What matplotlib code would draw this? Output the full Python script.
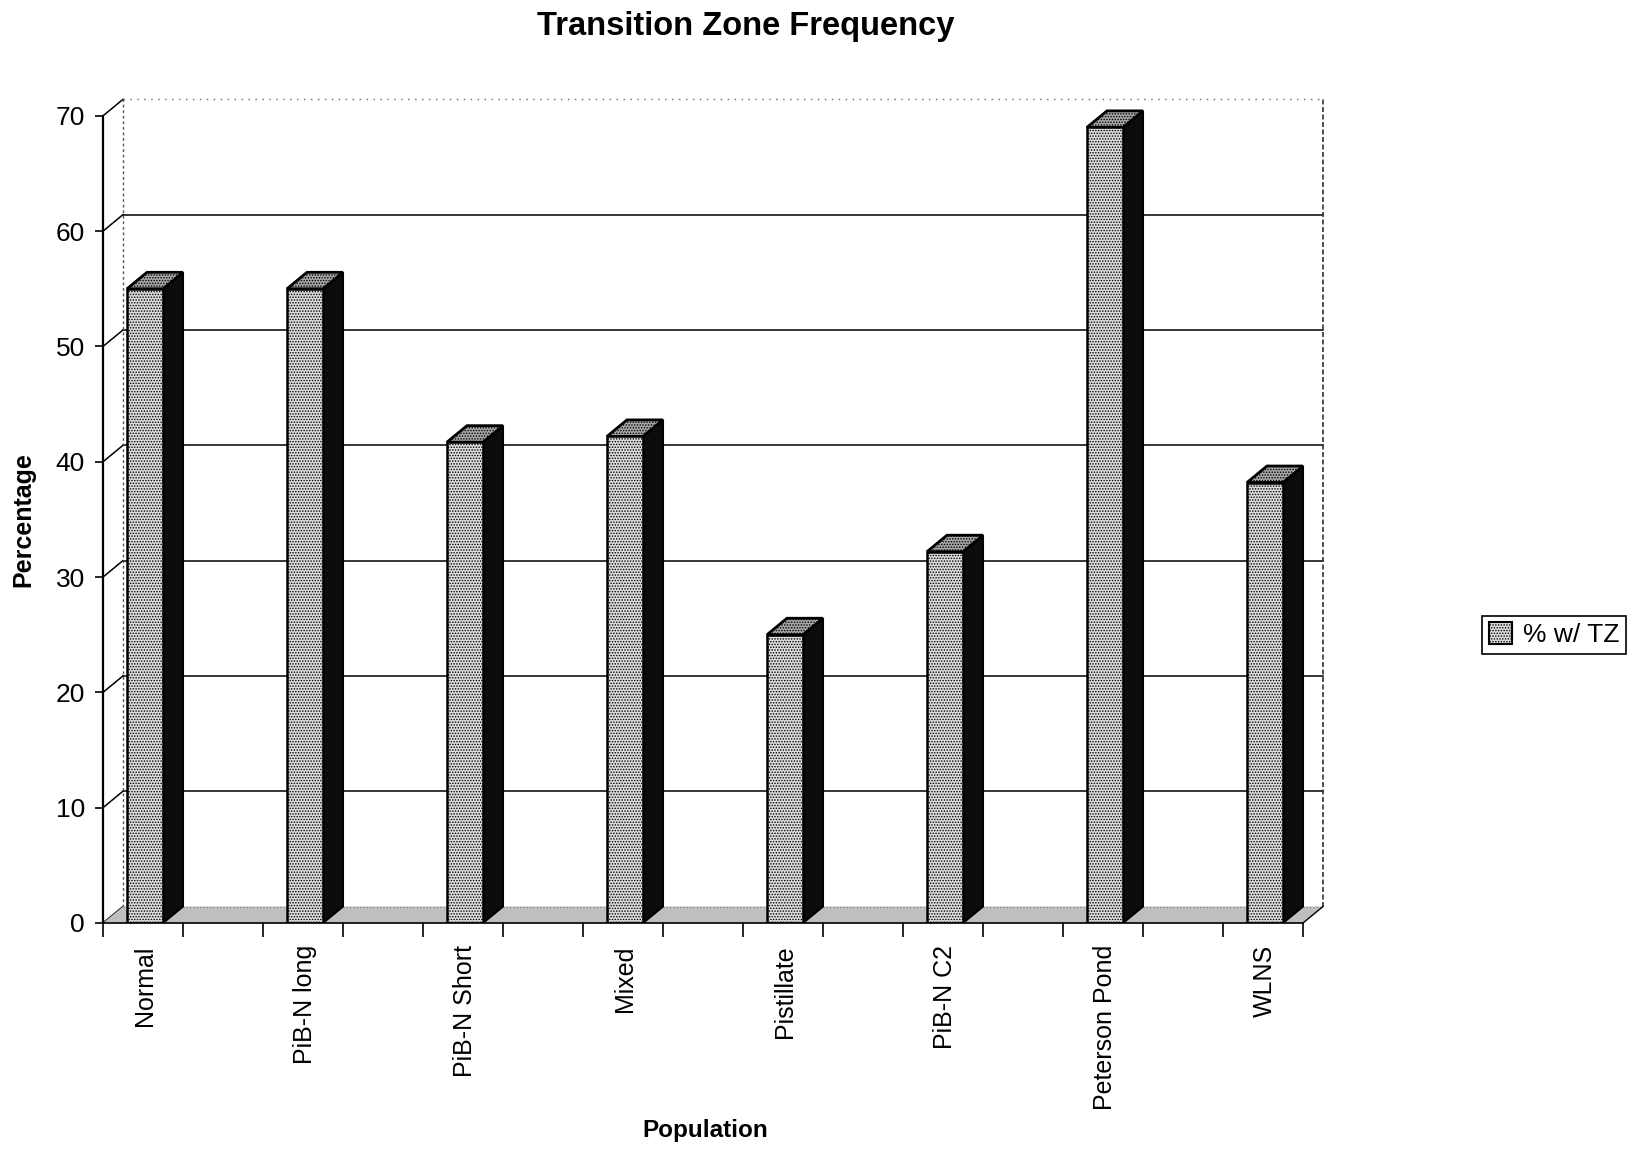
import matplotlib
matplotlib.use("Agg")
import matplotlib.pyplot as plt
from matplotlib.patches import Polygon, Patch

# Data
categories = ["Normal", "PiB-N long", "PiB-N Short", "Mixed", "Pistillate",
              "PiB-N C2", "Peterson Pond", "WLNS"]
pct_with_tz = [55.0, 55.0, 41.7, 42.2, 25.0, 32.2, 69.0, 38.2]
y_ticks = [0, 10, 20, 30, 40, 50, 60, 70]
series_label = "% w/ TZ"

plt.rcParams["font.family"] = ["Liberation Sans", "DejaVu Sans"]
plt.rcParams["hatch.color"] = "#6e6e6e"
plt.rcParams["hatch.linewidth"] = 0.7

W, H = 1636, 1149
fig = plt.figure(figsize=(W / 100, H / 100), dpi=100)

# axes: each category occupies a bar slot followed by an empty slot
n_slots = 2 * len(categories) - 1
ax = fig.add_axes([103 / W, (H - 923) / H, 1228 / W, 836 / H])
ax.set_xlim(0, n_slots + 0.35)
ax.set_ylim(0, 72.5)

# pseudo-3D depth offset (data units)
dx, dy = 0.25, 1.43
ymax = y_ticks[-1]

# back wall grid and side diagonals
for v in y_ticks:
    ax.plot([0, dx], [v, v + dy], color="black", lw=1.1, zorder=1, clip_on=False)
    if 0 < v < ymax:
        ax.plot([dx, n_slots + dx], [v + dy, v + dy], color="black", lw=1.1, zorder=1)
ax.plot([dx, n_slots + dx], [ymax + dy, ymax + dy], color="#666666", lw=1.0,
        ls=(0, (1, 4)), zorder=1, clip_on=False)
ax.plot([dx, dx], [dy, ymax + dy], color="#555555", lw=1.0, ls=(0, (2, 2)), zorder=1)
ax.plot([n_slots + dx, n_slots + dx], [dy, ymax + dy], color="#333333", lw=1.2,
        ls=(0, (3, 1.5)), zorder=1)

# floor
floor = Polygon([(0, 0), (n_slots, 0), (n_slots + dx, dy), (dx, dy)], closed=True,
                facecolor="#bfbfbf", edgecolor="none", hatch="......", zorder=1.5)
ax.add_patch(floor)
ax.plot([dx, n_slots + dx], [dy, dy], color="#777777", lw=0.8, ls=(0, (1, 2)), zorder=1.6)
ax.plot([n_slots, n_slots + dx], [0, dy], color="black", lw=1.0, zorder=1.6)

# bars
x0_off, bw = 0.30, 0.45
front_color, top_color, side_color = "#dcdcdc", "#a6a6a6", "#0c0c0c"
for i, val in enumerate(pct_with_tz):
    x0 = 2 * i + x0_off
    x1 = x0 + bw
    side = Polygon([(x1, 0), (x1 + dx, dy), (x1 + dx, val + dy), (x1, val)], closed=True,
                   facecolor=side_color, edgecolor="black", lw=1.5, zorder=3)
    top = Polygon([(x0, val), (x1, val), (x1 + dx, val + dy), (x0 + dx, val + dy)],
                  closed=True, facecolor=top_color, edgecolor="black", lw=2.0,
                  hatch="......", zorder=3.1)
    front = Polygon([(x0, 0), (x1, 0), (x1, val), (x0, val)], closed=True,
                    facecolor=front_color, edgecolor="black", lw=1.8, hatch="......",
                    zorder=3.2)
    for p in (side, top, front):
        ax.add_patch(p)

# axes spines and ticks
for s in ("top", "right"):
    ax.spines[s].set_visible(False)
ax.spines["left"].set_bounds(0, ymax)
ax.spines["bottom"].set_bounds(0, n_slots)
ax.spines["left"].set_linewidth(1.6)
ax.spines["bottom"].set_linewidth(1.2)
ax.spines["left"].set_zorder(5)
ax.spines["bottom"].set_zorder(5)

ax.set_yticks(y_ticks)
ax.set_yticklabels([str(v) for v in y_ticks])
ax.tick_params(axis="y", direction="out", length=6, width=1.2, pad=7, labelsize=19)

ax.set_xticks(range(n_slots + 1))
ax.set_xticklabels([])
ax.tick_params(axis="x", which="major", direction="out", length=10, width=1.2)
ax.set_xticks([2 * i + x0_off + bw / 2 for i in range(len(categories))], minor=True)
ax.set_xticklabels(categories, minor=True, rotation=90, fontsize=18, va="top")
ax.tick_params(axis="x", which="minor", length=0, pad=16)

# titles
fig.text(746 / W, 1 - 27 / H, "Transition Zone Frequency", ha="center", va="center",
         fontsize=23.5, fontweight="bold")
fig.text(23 / W, 1 - 520 / H, "Percentage", ha="center", va="center", rotation=90,
         fontsize=18, fontweight="bold")
fig.text(705 / W, 1 - 1130 / H, "Population", ha="center", va="center",
         fontsize=17.5, fontweight="bold")

# legend
handle = Patch(facecolor=front_color, edgecolor="black", hatch="......", lw=1.5)
leg = fig.legend([handle], [series_label], loc="lower left",
                 bbox_to_anchor=(1482 / W, 1 - 654 / H), fontsize=19, frameon=True,
                 fancybox=False, edgecolor="black", framealpha=1, borderpad=0.25,
                 handlelength=0.9, handleheight=0.9, handletextpad=0.4,
                 borderaxespad=0)
leg.get_frame().set_linewidth(1.2)

fig.savefig("out.png", dpi=100)
